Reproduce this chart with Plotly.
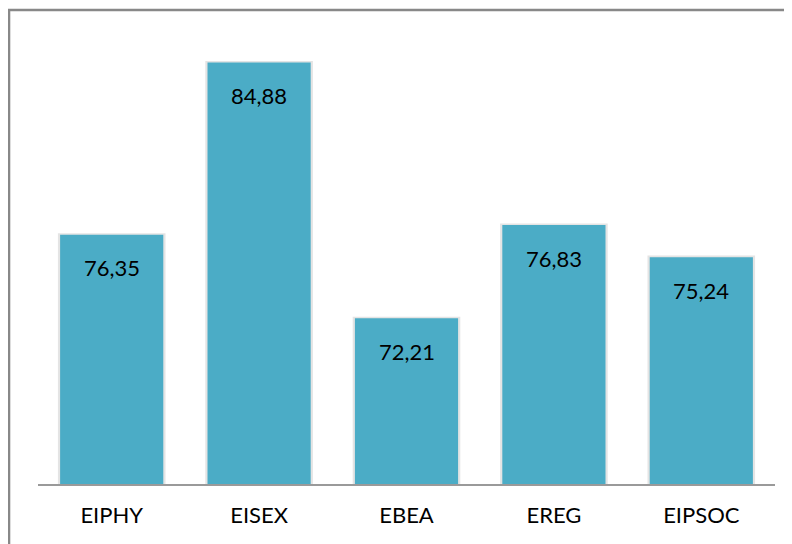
import plotly.graph_objects as go

categories = ["EIPHY", "EISEX", "EBEA", "EREG", "EIPSOC"]
values = [76.35, 84.88, 72.21, 76.83, 75.24]
y_min, y_max = 64, 86

fig = go.Figure()
# soft shadow behind bars
fig.add_trace(go.Bar(
    x=categories, y=[v - y_min + 0.08 for v in values], base=y_min,
    width=0.73, marker=dict(color="#e4e4e4", line=dict(width=0)),
    hoverinfo="skip",
))
fig.add_trace(go.Bar(
    x=categories, y=[v - y_min for v in values], base=y_min,
    width=0.7, marker=dict(color="#4BACC6", line=dict(width=0)),
    hoverinfo="skip",
))

for c, v in zip(categories, values):
    fig.add_annotation(x=c, y=v, text=f"{v:.2f}".replace(".", ","),
                       showarrow=False, yanchor="middle", yshift=-33,
                       font=dict(size=22, color="black", family="Lato, Open Sans, sans-serif"))

fig.add_shape(type="rect", xref="paper", yref="paper",
              x0=-0.0393, x1=1.1, y0=-0.3, y1=1.0676,
              line=dict(color="#888888", width=2.5), layer="above")

fig.update_layout(
    width=792, height=544,
    margin=dict(l=30, r=25, t=32, b=68),
    paper_bgcolor="white", plot_bgcolor="white",
    barmode="overlay", showlegend=False,
    font=dict(family="Lato, Open Sans, sans-serif", size=22, color="black"),
    xaxis=dict(showline=True, linecolor="#9a9a9a", linewidth=1.5,
               ticks="outside", ticklen=11, tickcolor="rgba(0,0,0,0)",
               showgrid=False, tickfont=dict(size=22)),
    yaxis=dict(range=[y_min, y_max], visible=False, showgrid=False),
)
fig.write_html("out.html")
